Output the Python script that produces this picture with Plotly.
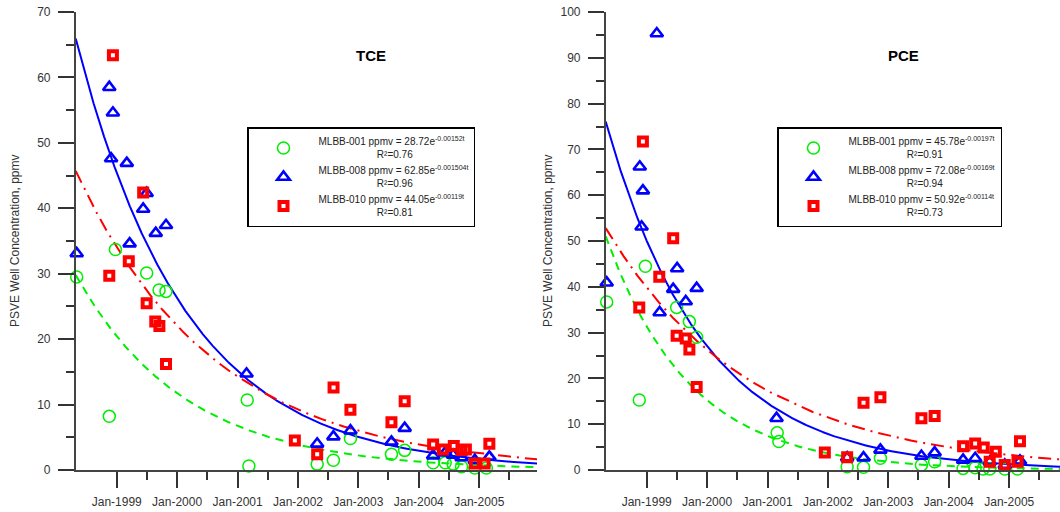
import numpy as np
import pandas as pd
import plotly.graph_objects as go

# ---------------- data ----------------
tce_001_dates = ["1998-05-04", "1998-11-17", "1998-12-24", "1999-07-01", "1999-09-14", "1999-10-26",
                 "2001-02-28", "2001-03-10", "2002-04-27", "2002-08-03", "2002-11-14", "2003-07-20",
                 "2003-10-08", "2004-03-28", "2004-06-09", "2004-07-27", "2004-09-16", "2004-12-05",
                 "2005-02-13"]
tce_001 = [29.5, 8.2, 33.7, 30.1, 27.5, 27.3, 10.7, 0.6, 0.9, 1.5, 4.8, 2.4, 3.0, 1.1, 1.1, 0.9, 0.5, 0.3, 0.3]

tce_008_dates = ["1998-05-04", "1998-11-17", "1998-11-28", "1998-12-09", "1999-03-03", "1999-03-20",
                 "1999-06-10", "1999-07-01", "1999-08-25", "1999-10-26", "2001-02-24", "2002-04-27",
                 "2002-08-03", "2002-11-14", "2003-07-20", "2003-10-08", "2004-03-28", "2004-06-09",
                 "2004-07-27", "2004-09-16", "2004-12-05", "2005-03-03"]
tce_008 = [33.1, 58.5, 47.6, 54.6, 46.9, 34.6, 39.9, 42.3, 36.2, 37.4, 14.7, 4.0, 5.1, 6.0, 4.3, 6.4,
           2.2, 2.65, 2.3, 1.9, 1.5, 2.0]

tce_010_dates = ["1998-11-17", "1998-12-09", "1999-03-15", "1999-06-10", "1999-07-01", "1999-08-22",
                 "1999-09-16", "1999-10-26", "2001-12-13", "2002-04-27", "2002-08-04", "2002-11-14",
                 "2003-07-20", "2003-10-08", "2004-03-28", "2004-05-26", "2004-07-31", "2004-09-16",
                 "2004-10-12", "2004-12-05", "2005-02-02", "2005-03-03"]
tce_010 = [29.7, 63.4, 31.9, 42.4, 25.5, 22.7, 22.0, 16.2, 4.5, 2.4, 12.6, 9.2, 7.3, 10.5, 3.9, 3.15,
           3.65, 3.05, 3.15, 1.0, 1.0, 4.0]

pce_001_dates = ["1998-05-04", "1998-11-17", "1998-12-24", "1999-07-01", "1999-09-16", "1999-10-30",
                 "2001-02-28", "2001-03-10", "2002-04-27", "2002-08-04", "2002-11-14", "2003-07-20",
                 "2003-10-08", "2004-03-28", "2004-06-09", "2004-07-27", "2004-09-05", "2004-12-05",
                 "2005-02-20"]
pce_001 = [36.7, 15.3, 44.5, 35.5, 32.4, 29.0, 8.15, 6.2, 0.7, 0.6, 2.55, 1.1, 1.8, 0.35, 0.5, 0.2,
           0.2, 0.2, 0.2]

pce_008_dates = ["1998-05-04", "1998-11-20", "1998-12-01", "1998-12-09", "1999-03-03", "1999-03-20",
                 "1999-06-10", "1999-07-04", "1999-08-25", "1999-10-30", "2001-02-24", "2002-04-27",
                 "2002-08-04", "2002-11-14", "2003-07-20", "2003-10-08", "2004-03-28", "2004-06-09",
                 "2004-09-05", "2004-12-05", "2005-03-07"]
pce_008 = [40.9, 66.2, 53.1, 61.0, 95.3, 34.4, 39.5, 44.0, 36.8, 39.7, 11.3, 2.7, 2.7, 4.4, 3.05, 3.8,
           2.2, 2.55, 1.8, 1.1, 2.0]

pce_010_dates = ["1998-11-17", "1998-12-09", "1999-03-18", "1999-06-10", "1999-07-01", "1999-08-25",
                 "1999-09-16", "1999-10-30", "2001-12-13", "2002-04-27", "2002-08-04", "2002-11-14",
                 "2003-07-20", "2003-10-08", "2004-03-28", "2004-06-09", "2004-07-31", "2004-09-05",
                 "2004-10-12", "2004-12-05", "2005-02-20", "2005-03-07"]
pce_010 = [35.5, 71.7, 42.2, 50.6, 29.3, 28.7, 26.3, 18.1, 3.8, 2.8, 14.7, 15.9, 11.3, 11.8, 5.2, 5.8,
           4.9, 1.8, 4.0, 1.1, 1.8, 6.3]

# exponential fits shown in the legends: ppmv = A * exp(-k t), t in days
tce_fit_A = [28.72, 62.85, 44.05]
tce_fit_k = [0.00152, 0.001504, 0.00119]
tce_r2 = ["0.76", "0.96", "0.81"]
pce_fit_A = [45.78, 72.08, 50.92]
pce_fit_k = [0.00197, 0.00169, 0.00114]
pce_r2 = ["0.91", "0.94", "0.73"]
tce_fit_t0 = ["1998-05-22", "1998-05-30", "1998-05-29"]
pce_fit_t0 = ["1998-06-22", "1998-05-30", "1998-05-30"]

wells = ["MLBB-001", "MLBB-008", "MLBB-010"]
year_ticks = ["1999-01-01", "2000-01-01", "2001-01-01", "2002-01-01", "2003-01-01", "2004-01-01", "2005-01-01"]
mid_ticks = ["1999-07-01", "2000-07-01", "2001-07-01", "2002-07-01", "2003-07-01", "2004-07-01", "2005-07-01"]

# ---------------- styling ----------------
GREEN = "#00EE00"
BLUE = "#0000FF"
RED = "#FF0000"
FONT = "Arial, Liberation Sans, sans-serif"
W, H = 1060, 512
ML, MT, MB = 0, 12, 42

marker_styles = [
    dict(symbol="circle-open", size=12, color=GREEN, line=dict(color=GREEN, width=1.5)),
    dict(symbol="triangle-up-open", size=11, color=BLUE, line=dict(color=BLUE, width=2.6)),
    dict(symbol="square-open", size=8, color=RED, line=dict(color=RED, width=4)),
]
line_styles = [
    dict(color=GREEN, width=2, dash="8px,6px"),
    dict(color=BLUE, width=2),
    dict(color=RED, width=2, dash="13px,6px,2px,6px"),
]

fig = go.Figure()

curve_dates = pd.date_range("1998-04-28", "2005-12-31", freq="D")

panels = [
    dict(xa="x", ya="y", legend="legend",
         series=[(tce_001_dates, tce_001), (tce_008_dates, tce_008), (tce_010_dates, tce_010)],
         A=tce_fit_A, k=tce_fit_k, t0=tce_fit_t0, r2=tce_r2),
    dict(xa="x2", ya="y2", legend="legend2",
         series=[(pce_001_dates, pce_001), (pce_008_dates, pce_008), (pce_010_dates, pce_010)],
         A=pce_fit_A, k=pce_fit_k, t0=pce_fit_t0, r2=pce_r2),
]

NB = "\u00a0"
for p in panels:
    # fitted curves
    for i in range(3):
        t = (curve_dates - pd.Timestamp(p["t0"][i])).days.values.astype(float)
        yv = p["A"][i] * np.exp(-p["k"][i] * t)
        fig.add_trace(go.Scatter(x=curve_dates, y=yv, mode="lines", line=line_styles[i],
                                 xaxis=p["xa"], yaxis=p["ya"], showlegend=False, hoverinfo="skip"))
    # data points
    for i in range(3):
        d, v = p["series"][i]
        name = (f"{wells[i]} ppmv = {p['A'][i]:.2f}e<sup>-{p['k'][i]:g}t</sup>"
                f"<br>{NB * 21}R²={p['r2'][i]}")
        fig.add_trace(go.Scatter(x=d, y=v, mode="markers", marker=marker_styles[i], name=name,
                                 xaxis=p["xa"], yaxis=p["ya"], legend=p["legend"], cliponaxis=False))

xax_common = dict(
    type="date", showline=True, linecolor="#444", linewidth=1.5, showgrid=False, zeroline=False,
    ticks="outside", ticklen=16, tickwidth=1.5, tickcolor="#333",
    tickmode="array", tickvals=year_ticks, ticktext=[pd.Timestamp(s).strftime("%b-%Y") for s in year_ticks],
    minor=dict(tickmode="array", tickvals=mid_ticks, ticklen=8, tickwidth=1.5, tickcolor="#333", ticks="outside"),
    tickfont=dict(family=FONT, size=12, color="#333"), ticklabelstandoff=4, automargin=False,
)
yax_common = dict(
    showline=True, linecolor="#444", linewidth=1.5, showgrid=False, zeroline=False,
    ticks="outside", ticklen=16, tickwidth=1.5, tickcolor="#333",
    minor=dict(ticklen=8, tickwidth=1.5, tickcolor="#333", ticks="outside"),
    tickfont=dict(family=FONT, size=12, color="#333"), ticklabelstandoff=5, automargin=False,
)

PW = W - ML
LEG_TOP = 127
fig.update_layout(
    width=W, height=H, margin=dict(l=ML, r=0, t=MT, b=MB, pad=0),
    paper_bgcolor="white", plot_bgcolor="white",
    xaxis=dict(**xax_common, domain=[75.7 / PW, 537 / PW], range=["1998-04-28", "2005-12-16"]),
    yaxis=dict(**yax_common, range=[0, 70], dtick=10, anchor="x",
               minor_dtick=5),
    xaxis2=dict(**xax_common, domain=[605.7 / PW, 1.0], range=["1998-04-28", "2005-11-04"], anchor="y2"),
    yaxis2=dict(**yax_common, range=[0, 100], dtick=10, anchor="x2", minor_dtick=5),
    legend=dict(x=247 / PW, y=1 - (LEG_TOP - MT) / (H - MT - MB), xanchor="left", yanchor="top",
                bgcolor="white", bordercolor="#000", borderwidth=1.5,
                font=dict(family=FONT, size=10, color="#222"), itemwidth=60, tracegroupgap=0),
    legend2=dict(x=777 / PW, y=1 - (LEG_TOP - MT) / (H - MT - MB), xanchor="left", yanchor="top",
                 bgcolor="white", bordercolor="#000", borderwidth=1.5,
                 font=dict(family=FONT, size=10, color="#222"), itemwidth=60, tracegroupgap=0),
    showlegend=True,
)

ann_common = dict(xref="paper", yref="paper", showarrow=False)
for xpix, txt in [(371, "TCE"), (903, "PCE")]:
    fig.add_annotation(**ann_common, x=xpix / PW, y=1 - (55 - MT) / (H - MT - MB), text=f"<b>{txt}</b>",
                       font=dict(family=FONT, size=15, color="#000"), xanchor="center", yanchor="middle")
for xpix in [15, 548]:
    fig.add_annotation(**ann_common, x=xpix / PW, y=0.5, text="PSVE Well Concentration, ppmv", textangle=-90,
                       font=dict(family=FONT, size=12, color="#333"), xanchor="center", yanchor="middle")

fig.write_html("out.html")
